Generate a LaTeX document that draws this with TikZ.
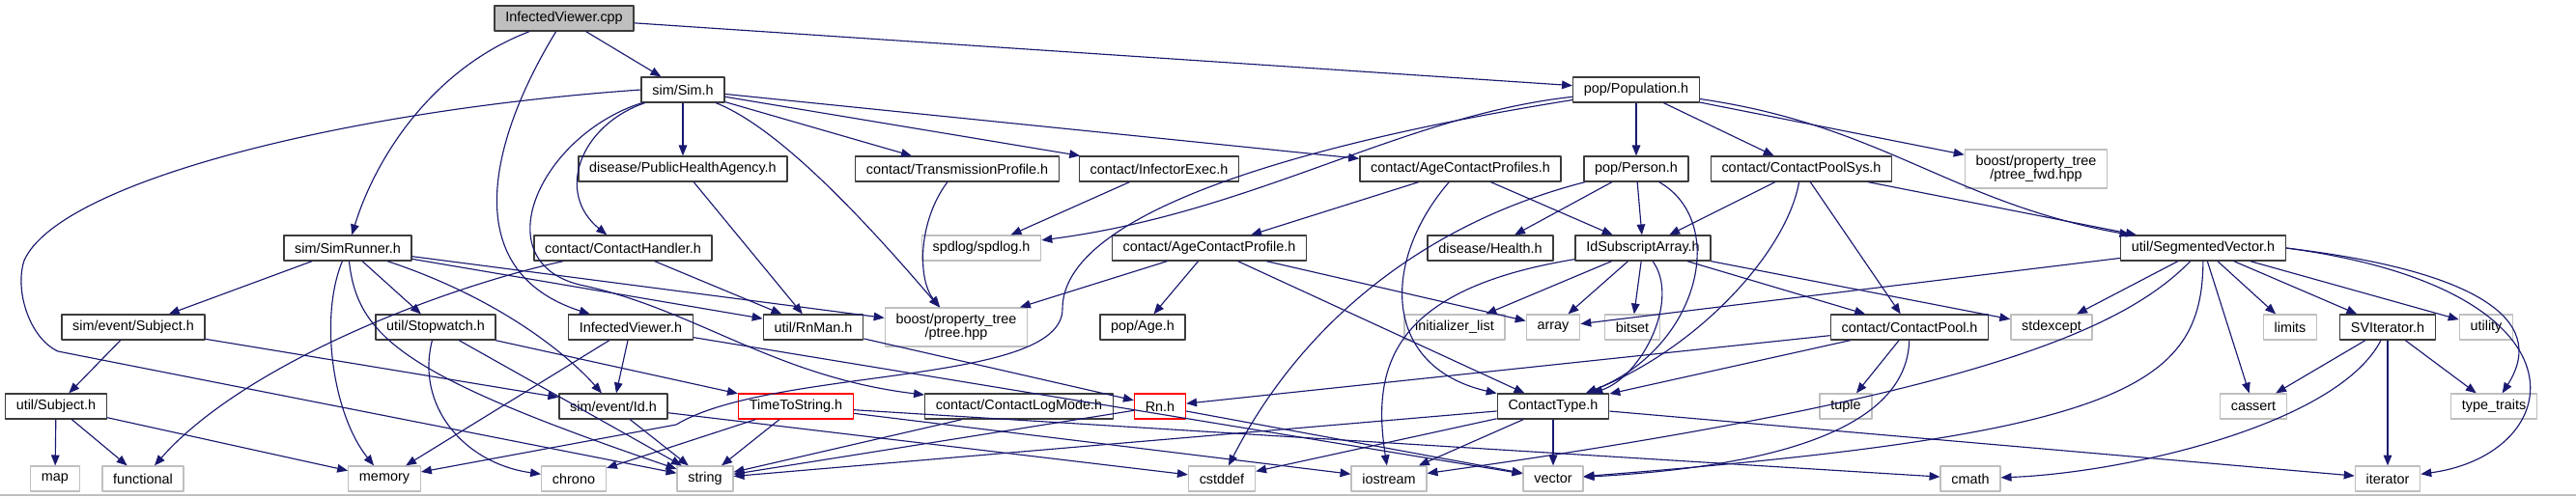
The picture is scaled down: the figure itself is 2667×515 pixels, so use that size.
\documentclass[tikz,border=0pt]{standalone}
\usepackage{fontspec}
\setmainfont{Liberation Sans}
\usepackage{tikz}
\usetikzlibrary{arrows.meta}
\definecolor{dxedge}{RGB}{25,25,112}
\definecolor{dxgray}{RGB}{191,191,191}
\definecolor{dxframe}{RGB}{60,60,60}
\definecolor{dxred}{RGB}{255,0,0}

\begin{document}
\begin{tikzpicture}[x=0.02cm, y=-0.02cm, >={Triangle[length=6.2pt,width=4.9pt]}, line join=round,
  font=\fontsize{8.2}{8.2}\selectfont,
  box/.style={rectangle, fill=white, minimum height=14.7pt, inner xsep=6.4pt, inner ysep=1pt, align=center, line width=0.8pt},
  hdr/.style={box, draw=dxframe},
  sys/.style={box, draw=dxgray},
  trunc/.style={box, draw=dxred},
  root/.style={box, draw=dxframe, fill=dxgray},
  edge/.style={dxedge, line width=0.65pt, ->}]
  \path[use as bounding box] (0,0) rectangle (2667,515);
  \draw[dxgray, line width=0.6pt] (0,513) -- (2667,513);

  % Root file
  \node[root] (cpp) at (584,19) {InfectedViewer.cpp};

  % Project headers
  \foreach \name/\x/\y/\txt in {sim/707/93/{sim/Sim.h}, pop/1694/93/{pop/Population.h},
      runner/360/257/{sim/SimRunner.h}, pha/707/175/{disease/PublicHealthAgency.h},
      tprof/991/175/{contact/TransmissionProfile.h}, iexec/1200/175/{contact/InfectorExec.h},
      acps/1512/175/{contact/AgeContactProfiles.h}, person/1694/175/{pop/Person.h},
      cpsys/1865/175/{contact/ContactPoolSys.h}, chandler/645/257/{contact/ContactHandler.h},
      acp/1252/257/{contact/AgeContactProfile.h}, health/1543/257/{disease/Health.h},
      idsa/1701/257/{IdSubscriptArray.h}, segvec/2281/257/{util/SegmentedVector.h},
      evsubj/138/339/{sim/event/Subject.h}, stopw/451/339/{util/Stopwatch.h},
      ivh/653/339/{InfectedViewer.h}, rnman/842/339/{util/RnMan.h},
      age/1183/339/{pop/Age.h}, cpool/1977/339/{contact/ContactPool.h},
      sviter/2472/339/{SVIterator.h}, usubj/58/421/{util/Subject.h},
      evid/635/421/{sim/event/Id.h}, clog/1055/421/{contact/ContactLogMode.h},
      ctype/1608/421/{ContactType.h}} {
    \node[hdr] (\name) at (\x,\y) {\txt};
  }

  % Truncated headers
  \node[trunc] (tts) at (824,421) {TimeToString.h};
  \node[trunc] (rn) at (1201,421) {Rn.h};

  % System and library headers
  \node[sys, minimum height=22.7pt] (ptreefwd) at (2108,175) {boost/property\_tree\\/ptree\_fwd.hpp};
  \node[sys, minimum height=22.7pt] (ptree) at (990,339) {boost/property\_tree\\/ptree.hpp};
  \foreach \name/\x/\y/\txt in {spdlog/1016/257/{spdlog/spdlog.h}, initlist/1506/339/{initializer\_list},
      array/1608/339/array, bitset/1690/339/bitset, stdexcept/2124/339/stdexcept,
      limits/2371/339/limits, utility/2574/339/utility, tuple/1911/421/tuple,
      cassert/2333/421/cassert, typetraits/2582/421/{type\_traits}, map/57/496/map,
      functional/148/496/functional, memory/398/496/memory, chrono/594/496/chrono,
      string/730/496/string, cstddef/1265/496/cstddef, iostream/1438/496/iostream,
      vector/1608/496/vector, cmath/2040/496/cmath, iterator/2472/496/iterator} {
    \node[sys] (\name) at (\x,\y) {\txt};
  }

  % Straight include edges
  \foreach \a/\b in {cpp/sim, cpp/pop, sim/pha, sim/tprof, sim/iexec, sim/acps,
      runner/evsubj, runner/stopw, runner/ptree, runner/rnman, chandler/rnman, pha/rnman,
      iexec/spdlog, acps/acp, acps/idsa, acp/ptree, acp/age, acp/ctype, acp/array,
      pop/person, pop/cpsys, pop/ptreefwd, person/health, person/idsa,
      cpsys/idsa, cpsys/cpool, cpsys/segvec, idsa/initlist, idsa/array, idsa/bitset,
      idsa/cpool, idsa/stdexcept, cpool/ctype, cpool/tuple, cpool/rn,
      ctype/string, ctype/cstddef, ctype/iostream, ctype/vector, ctype/iterator,
      segvec/array, segvec/stdexcept, segvec/cassert, segvec/limits, segvec/sviter, segvec/utility,
      sviter/cassert, sviter/iterator, sviter/typetraits, ivh/evid, ivh/memory, ivh/vector,
      evsubj/usubj, evsubj/evid, usubj/map, usubj/functional, usubj/memory,
      stopw/tts, stopw/string, evid/string, evid/cstddef,
      tts/string, tts/chrono, tts/cmath, tts/iostream, rnman/rn, rn/string, rn/vector, clog/string} {
    \draw[edge] (\a) -- (\b);
  }

  % Curved include edges
  \draw[edge] (cpp) .. controls (450,70) and (390,160) .. (runner);
  \draw[edge] (cpp) .. controls (510,140) and (470,280) .. (ivh);
  \draw[edge] (sim.west) .. controls (350,115) and (60,190) .. (25,270)
    .. controls (15,300) and (30,350) .. (60,364) -- (string);
  \draw[edge] (sim) .. controls (600,130) and (575,200) .. (chandler);
  \draw[edge] (sim) .. controls (800,130) and (880,210) .. (ptree);
  \draw[edge] (sim) .. controls (560,140) and (500,270) .. (600,295)
    .. controls (720,320) and (800,390) .. (clog);
  \draw[edge] (runner) .. controls (330,330) and (345,430) .. (memory);
  \draw[edge] (runner) .. controls (370,350) and (420,390) .. (string);
  \draw[edge] (runner) .. controls (520,310) and (590,370) .. (evid);
  \draw[edge] (chandler) .. controls (450,300) and (250,380) .. (functional);
  \draw[edge] (tprof) .. controls (950,230) and (950,290) .. (ptree);
  \draw[edge] (acps) .. controls (1430,270) and (1430,380) .. (ctype);
  \draw[edge] (pop) .. controls (1450,120) and (1300,220) .. (spdlog);
  \draw[edge] (pop) .. controls (1400,140) and (1100,210) .. (1100,320)
    .. controls (1100,400) and (800,380) .. (700,440) -- (memory);
  \draw[edge] (pop) .. controls (1950,130) and (2020,210) .. (segvec);
  \draw[edge] (person) .. controls (1790,230) and (1760,360) .. (ctype);
  \draw[edge] (person) .. controls (1480,230) and (1350,330) .. (cstddef);
  \draw[edge] (cpsys) .. controls (1850,260) and (1760,360) .. (ctype);
  \draw[edge] (idsa) .. controls (1740,310) and (1700,390) .. (ctype);
  \draw[edge] (idsa) .. controls (1440,300) and (1420,380) .. (iostream);
  \draw[edge] (cpool) .. controls (1975,420) and (1900,480) .. (vector);
  \draw[edge] (segvec) .. controls (2200,340) and (2050,410) .. (iostream);
  \draw[edge] (segvec) .. controls (2280,400) and (2200,450) .. (vector);
  \draw[edge] (segvec.east) .. controls (2560,280) and (2640,330) .. (typetraits);
  \draw[edge] (segvec.east) .. controls (2690,300) and (2660,470) .. (iterator);
  \draw[edge] (sviter) .. controls (2420,440) and (2200,490) .. (cmath);
  \draw[edge] (stopw) .. controls (430,420) and (480,480) .. (chrono);

\end{tikzpicture}
\end{document}
